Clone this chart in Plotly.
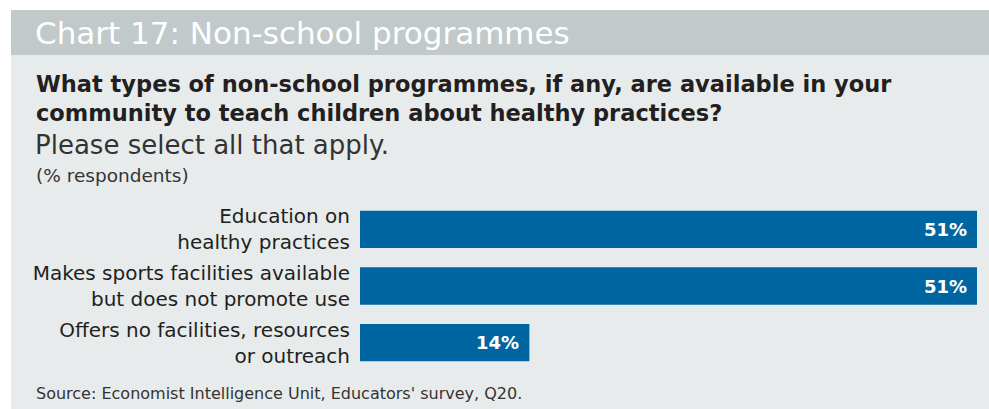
import plotly.graph_objects as go

categories = [
    "Education on<br>healthy practices",
    "Makes sports facilities available<br>but does not promote use",
    "Offers no facilities, resources<br>or outreach",
]
values = [51, 51, 14]
value_labels = ["51%", "51%", "14%"]

W, H = 989, 409
L, R, T, B = 360, 12, 201, 38
FONT = "DejaVu Sans"
DARK = "#231f20"
BAR = "#0066a1"


def fx(px):
    return (px - L) / (W - L - R)


def fy(py):
    return (H - B - py) / (H - T - B)


fig = go.Figure(
    go.Bar(
        x=values,
        y=categories,
        orientation="h",
        marker=dict(color=BAR, line=dict(width=0)),
        hoverinfo="x+y",
    )
)

shapes = [
    # light panel
    dict(type="rect", xref="paper", yref="paper", x0=fx(11), x1=fx(W), y0=fy(55), y1=fy(H),
         fillcolor="#e8ebec", line=dict(width=0), layer="below"),
    # header band
    dict(type="rect", xref="paper", yref="paper", x0=fx(11), x1=fx(W), y0=fy(10), y1=fy(55),
         fillcolor="#c1c9ca", line=dict(width=0), layer="below"),
]

annotations = [
    dict(text="Chart 17: Non-school programmes", x=fx(33), y=fy(33),
         font=dict(family=FONT, size=31, color="white")),
    dict(text="<b>What types of non-school programmes, if any, are available in your<br>"
              "community to teach children about healthy practices?</b>",
         x=fx(34), y=fy(99), font=dict(family=FONT, size=22.5, color=DARK)),
    dict(text="Please select all that apply.", x=fx(33), y=fy(145),
         font=dict(family=FONT, size=26, color="#333333")),
    dict(text="(% respondents)", x=fx(34), y=fy(175),
         font=dict(family=FONT, size=18.5, color="#333333")),
    dict(text="Source: Economist Intelligence Unit, Educators' survey, Q20.", x=fx(34), y=fy(393),
         font=dict(family=FONT, size=16, color="#333333")),
]
for a in annotations:
    a.update(xref="paper", yref="paper", xanchor="left", yanchor="middle",
             showarrow=False, align="left")

# value labels placed at the end of each bar
for cat, val, lab in zip(categories, values, value_labels):
    annotations.append(dict(
        text=f"<b>{lab}</b>", x=val, y=cat, xref="x", yref="y",
        xanchor="right", yanchor="middle", xshift=-8, showarrow=False,
        font=dict(family=FONT, size=18, color="white"),
    ))

fig.update_layout(
    width=W, height=H,
    margin=dict(l=L, r=R, t=T, b=B, pad=0),
    paper_bgcolor="white",
    plot_bgcolor="rgba(0,0,0,0)",
    showlegend=False,
    bargap=0.34,
    shapes=shapes,
    annotations=annotations,
    xaxis=dict(range=[0, 51], visible=False, fixedrange=True),
    yaxis=dict(autorange="reversed", showgrid=False, zeroline=False, showline=False,
               ticks="", ticklabelstandoff=9, fixedrange=True,
               tickfont=dict(family=FONT, size=20, color=DARK)),
)

fig.write_html("out.html", config={"displayModeBar": False})
